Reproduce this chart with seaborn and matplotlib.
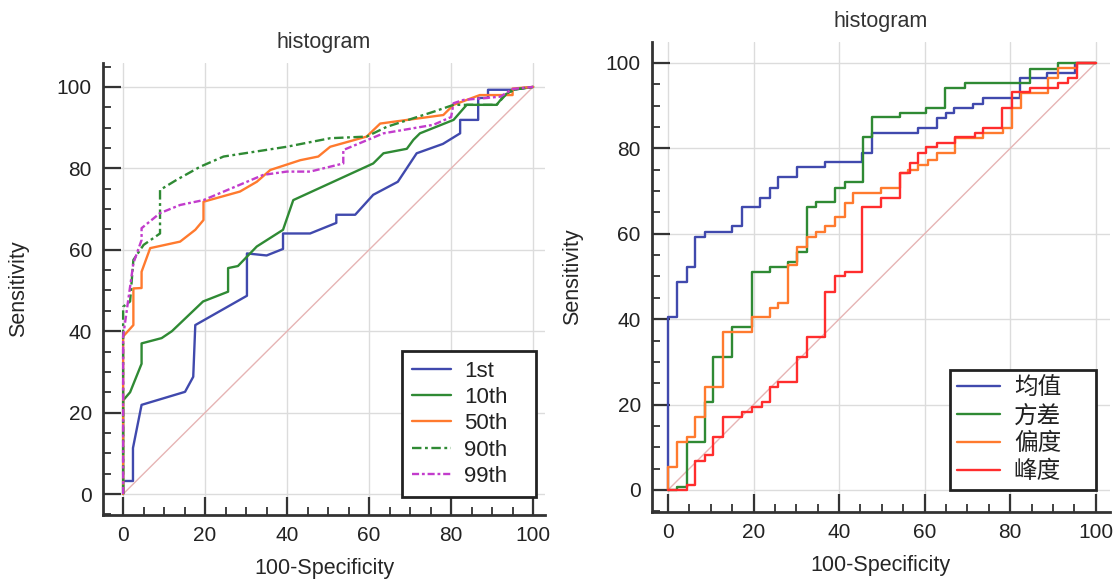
import matplotlib
matplotlib.use("Agg")
import matplotlib.pyplot as plt
import seaborn as sns
from matplotlib.ticker import MultipleLocator

# -----------------------------
# Data
# -----------------------------
# left panel: percentile features
p1_x = [0, 0, 2.4, 2.4, 4.5, 15.1, 17.1, 17.6, 30.2, 30.2, 35, 39, 39, 45.6, 52, 52, 56.6, 61, 67, 71.6,
        78, 82.2, 82.2, 86.6, 86.6, 89, 89, 95, 100]
p1_y = [0, 3.2, 3.2, 11.3, 21.9, 25.1, 28.8, 41.5, 48.7, 59.1, 58.6, 60.2, 64, 64, 66.6, 68.6, 68.6, 73.5, 76.7, 83.7,
        86, 88.6, 91.9, 91.9, 97.3, 97.3, 99.3, 99.3, 100]

p10_x = [0, 0, 1.7, 4.5, 4.5, 9.4, 11.9, 19.5, 25.6, 25.6, 28, 30.2, 32.6, 39, 41.5, 61, 63.5, 69.2, 70.8, 72.4,
         80.6, 83.8, 91.1, 92.7, 95, 100]
p10_y = [0, 23, 25, 32, 37, 38.3, 40, 47.3, 49.7, 55.5, 56, 58.3, 60.8, 64.9, 72.2, 81.2, 83.7, 84.8, 87, 88.6,
         91.9, 95.6, 95.6, 97.6, 99.3, 100]

p50_x = [0, 0, 2.5, 2.5, 4.5, 4.5, 6.6, 13.9, 17.6, 19.6, 19.6, 28.5, 32.6, 35.9, 43.2, 47.6, 50.5, 59.4, 62.7, 78.1,
         80.6, 87, 95, 95, 100]
p50_y = [0, 38.7, 41.5, 50.5, 50.6, 54.6, 60.4, 62, 64.9, 67.3, 71.8, 74.3, 76.7, 79.6, 82, 82.9, 85.3, 87.8, 91, 93.1,
         95.6, 98, 98, 99.6, 100]

p90_x = [0, 0, 1.7, 2.5, 5, 9, 9, 13.1, 18.8, 24.5, 39.9, 50.5, 59.4, 64.3, 75.7, 80.6, 91.1, 93.6, 96, 100]
p90_y = [0, 46, 47.3, 57.5, 61.2, 64, 74.7, 77.2, 80.4, 82.9, 85.3, 87.4, 87.8, 90.2, 93.9, 95.6, 95.6, 98.4, 99.5, 100]

p99_x = [0, 0, 2.5, 4.5, 4.5, 9, 13.9, 19.6, 34.2, 39.9, 45.6, 53.7, 53.7, 63.5, 75.7, 80, 80.6, 83, 92, 95, 100]
p99_y = [0, 38.7, 56.7, 62.4, 65.3, 69, 71, 72.2, 78.4, 79.2, 79.2, 81.2, 84.5, 88.6, 90.7, 92.6, 96, 96.8, 97.6,
         99.5, 100]

# right panel: moment features (step curves, steps-post corners)
mean_x = [0, 0, 2, 4.4, 6.3, 8.6, 14.9, 17.2, 21.5, 23.8, 25.8, 30.1, 36.7, 45.3, 47.6, 58.5, 62.8, 65.1, 66.9, 71.3,
          73.7, 82.2, 88.5, 95.1, 100]
mean_y = [0, 40.6, 48.8, 52.3, 59.3, 60.5, 61.7, 66.3, 68.3, 70.7, 73.4, 75.7, 76.7, 79, 83.5, 84.7, 87, 88.2, 89.4,
          90.4, 91.7, 96.4, 97.7, 100, 100]

var_x = [0, 2, 4.4, 8.6, 10.6, 14.9, 19.6, 23.8, 28.1, 30.1, 32.4, 34.7, 39, 41.4, 45.6, 47.6, 54.2, 60.4, 64.7, 69.4,
         84.6, 91.2, 100]
var_y = [0, 0.8, 11.3, 20.7, 31.2, 38.2, 51.1, 52.3, 53.5, 55.8, 66.3, 67.5, 70.7, 72.1, 82.7, 87.3, 88.2, 89.4, 94.1,
         95.4, 98.5, 100, 100]

skew_x = [0, 0, 2, 4.4, 6.3, 8.6, 12.9, 19.6, 23.8, 25.8, 28.1, 30.1, 32.4, 34.7, 36.7, 39, 41.4, 43.3, 49.9, 54.2,
          56.2, 58.5, 60.8, 62.8, 67.1, 73.7, 78.3, 80.3, 82.6, 88.9, 91.2, 95.5, 100]
skew_y = [0, 5.5, 11.3, 12.5, 17.2, 24.2, 37.1, 40.6, 42.5, 43.9, 52.7, 57, 59.3, 60.5, 61.7, 64, 67.1, 69.6, 70.7,
          74.2, 74.9, 76.1, 77.3, 78.9, 82.4, 83.5, 84.7, 89.4, 92.9, 96.4, 98.8, 100, 100]

kurt_x = [0, 4.4, 6.3, 8.6, 10.6, 12.9, 17.2, 19.6, 21.9, 23.8, 25.8, 30.1, 32.4, 36.7, 39, 41.4, 45.3, 49.9, 54.2,
          56.5, 58.5, 60.4, 62.8, 67.1, 71.7, 73.7, 78, 80.3, 84.6, 91.2, 93.5, 95.5, 100]
kurt_y = [0, 1.2, 6.9, 8.2, 12.5, 17.2, 18.3, 19.5, 20.7, 24.2, 25.4, 31.2, 35.9, 46.4, 50, 51.1, 66.3, 68.3, 74.2,
          76.5, 78.9, 80.4, 81.2, 82.7, 83.5, 84.7, 89.4, 93.1, 94.1, 95.2, 96.4, 100, 100]

ref_line = [0, 100]

left_labels = ["1st", "10th", "50th", "90th", "99th"]
right_labels = ["均值", "方差", "偏度", "峰度"]

# -----------------------------
# Style
# -----------------------------
sns.set_theme(style="white")
plt.rcParams["font.family"] = ["Liberation Sans", "DejaVu Sans"]
plt.rcParams["text.color"] = "#222222"

BLUE = "#4049ad"
GREEN = "#2f8a34"
ORANGE = "#ff7a2e"
RED = "#ff2d2d"
MAGENTA = "#c23ccc"
DIAG = "#e6b4b4"

fig = plt.figure(figsize=(11.2, 5.83), dpi=100)
ax1 = fig.add_axes([0.0920, 0.1166, 0.3946, 0.7755])
ax2 = fig.add_axes([0.5821, 0.1218, 0.4089, 0.8062])


def style_axes(ax, xlim, ylim, ylabelpad):
    ax.set_xlim(*xlim)
    ax.set_ylim(*ylim)
    ax.xaxis.set_major_locator(MultipleLocator(20))
    ax.yaxis.set_major_locator(MultipleLocator(20))
    ax.xaxis.set_minor_locator(MultipleLocator(5))
    ax.yaxis.set_minor_locator(MultipleLocator(5))
    ax.grid(True, which="major", color="#dcdcdc", linewidth=1.0)
    ax.set_axisbelow(True)
    for s in ["top", "right"]:
        ax.spines[s].set_visible(False)
    for s in ["left", "bottom"]:
        ax.spines[s].set_color("#333333")
        ax.spines[s].set_linewidth(2.0)
    ax.tick_params(which="major", direction="in", length=13, width=1.6, color="#333333",
                   labelsize=15, labelcolor="#222222", pad=8)
    ax.tick_params(which="minor", direction="in", length=6, width=1.3, color="#333333")
    ax.tick_params(axis="y", which="both", left=True)
    ax.tick_params(axis="x", which="both", bottom=True)
    ax.set_xlabel("100-Specificity", fontsize=15.5, labelpad=9)
    ax.set_ylabel("Sensitivity", fontsize=15.5, labelpad=ylabelpad)
    ax.set_title("histogram", fontsize=15.5, pad=11, color="#333333")


# -----------------------------
# Left panel
# -----------------------------
ax1.plot(ref_line, ref_line, color=DIAG, linewidth=1.0, zorder=1)
left_series = [(p1_x, p1_y, BLUE, "-"),
               (p10_x, p10_y, GREEN, "-"),
               (p50_x, p50_y, ORANGE, "-"),
               (p90_x, p90_y, GREEN, (0, (4, 1.5, 1.2, 1.5))),
               (p99_x, p99_y, MAGENTA, (0, (3, 1.2, 1.2, 1.2)))]
for (xs, ys, col, ls), lab in zip(left_series, left_labels):
    sns.lineplot(x=xs, y=ys, ax=ax1, sort=False, estimator=None, color=col,
                 linestyle=ls, linewidth=1.7, label=lab, zorder=3)
style_axes(ax1, (-4.9, 102.9), (-5.16, 105.9), 20)

leg1 = ax1.legend(loc="lower left", bbox_to_anchor=(0.677, 0.040, 0.302, 0.3), mode="expand",
                  fontsize=16, frameon=True, fancybox=False, framealpha=1, borderpad=0.45,
                  labelspacing=0.24, handlelength=1.75, handletextpad=0.6, borderaxespad=0)
leg1.get_frame().set_edgecolor("#222222")
leg1.get_frame().set_linewidth(2.0)

# -----------------------------
# Right panel
# -----------------------------
ax2.plot(ref_line, ref_line, color=DIAG, linewidth=1.0, zorder=1)
right_series = [(mean_x, mean_y, BLUE),
                (var_x, var_y, GREEN),
                (skew_x, skew_y, ORANGE),
                (kurt_x, kurt_y, RED)]
for (xs, ys, col), lab in zip(right_series, right_labels):
    sns.lineplot(x=xs, y=ys, ax=ax2, sort=False, estimator=None, color=col,
                 drawstyle="steps-post", linewidth=1.7, label=lab, zorder=3)
style_axes(ax2, (-3.74, 103.3), (-5.15, 104.9), 16)

leg2 = ax2.legend(loc="lower left", bbox_to_anchor=(0.651, 0.047, 0.319, 0.3), mode="expand",
                  prop={"family": ["Noto Sans CJK SC", "DejaVu Sans"], "size": 17},
                  frameon=True, fancybox=False, framealpha=1, borderpad=0.3,
                  labelspacing=0.2, handlelength=1.8, handletextpad=0.6, borderaxespad=0)
leg2.get_frame().set_edgecolor("#222222")
leg2.get_frame().set_linewidth(2.0)

plt.savefig("out.png", dpi=100)
plt.close()
